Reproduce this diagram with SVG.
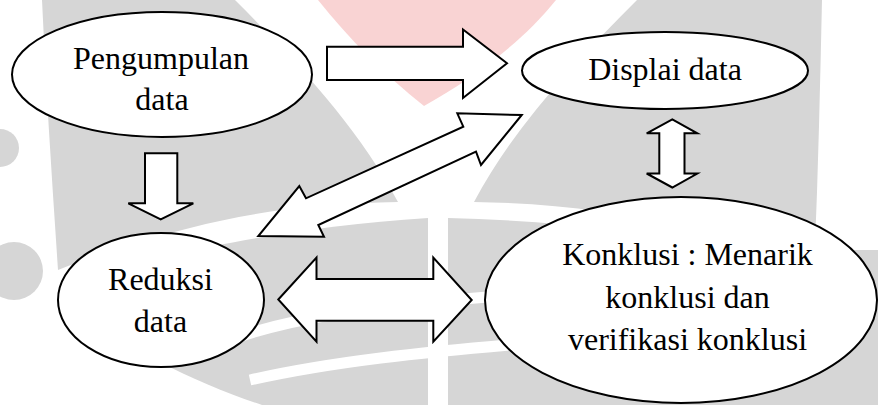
<svg xmlns="http://www.w3.org/2000/svg" width="878" height="405" viewBox="0 0 878 405">
<style>
.wm{fill:#d6d6d6;stroke:none}
.wmp{fill:#f9d3d3;stroke:none}
.wms{fill:none;stroke:#ffffff;stroke-width:11}
.node{fill:#ffffff;stroke:#000000;stroke-width:2}
.arrow{fill:#ffffff;stroke:#000000;stroke-width:2;stroke-linejoin:miter}
.lbl{font-family:"Liberation Serif","Times New Roman",serif;font-size:32px;fill:#000000;text-anchor:middle}
</style>
<rect width="878" height="405" fill="#ffffff"/>
<g id="watermark">
<path class="wmp" d="M318,0 L556,0 C520,45 470,80 424,106 C385,75 350,40 318,0 Z"/>
<path class="wm" d="M42,0 L235,0 C300,65 360,130 398,202 C320,203 250,212 190,228 C140,240 95,255 58,270 C52,180 46,90 42,0 Z"/>
<path class="wm" d="M60,290 C120,265 250,230 428,218 L428,405 L262,405 C200,385 120,345 60,305 Z"/>
<path class="wm" d="M637,0 L822,0 C820,90 818,180 814,270 C777,255 732,240 682,228 C622,212 552,203 474,202 C512,130 572,65 637,0 Z"/>
<path class="wm" d="M448,218 C540,220 640,230 740,250 L878,250 L878,405 L448,405 Z"/>
<circle class="wm" cx="14" cy="271" r="29"/>
<circle class="wm" cx="0" cy="148" r="19"/>
<path class="wms" d="M230,340 C290,318 370,306 500,296"/>
<path class="wms" d="M250,380 C330,362 420,352 545,342"/>
</g>
<g id="connectors">
<polygon class="arrow" points="327,46.7 463,46.7 463,29.5 507,63.3 463,98 463,80 327,80"/>
<polygon class="arrow" points="145,153.3 177.3,153.3 177.3,203.3 193.3,203.3 160.7,219.3 128.3,203.3 145,203.3"/>
<polygon class="arrow" points="521.7,115 481,165 476,151.7 318.3,225 324,236.7 258.3,236 299.3,186 306,198.3 463.3,126.7 457.3,113.3"/>
<polygon class="arrow" points="278.3,299.5 316.5,257.5 316.5,279 433.3,279 433.3,257.5 471.7,300 433.3,341.7 433.3,320.7 316.5,320.7 316.5,341.7"/>
<polygon class="arrow" points="672.3,119.3 697.3,133.3 684.5,133.3 684.5,173.5 697.3,173.5 672.3,187.5 646.7,173.5 659.3,173.5 659.3,133.3 646.7,133.3"/>
</g>
<g id="pengumpulan">
<ellipse class="node" cx="162" cy="74.5" rx="150" ry="62.5"/>
<text class="lbl" x="161" y="68.5">Pengumpulan</text>
<text class="lbl" x="162" y="110">data</text>
</g>
<g id="displai">
<ellipse class="node" cx="665" cy="70.5" rx="143" ry="38.5"/>
<text class="lbl" x="665" y="80">Displai data</text>
</g>
<g id="reduksi">
<ellipse class="node" cx="161" cy="300" rx="103" ry="67"/>
<text class="lbl" x="160.5" y="290">Reduksi</text>
<text class="lbl" x="160.5" y="331.7">data</text>
</g>
<g id="konklusi">
<ellipse class="node" cx="681" cy="300" rx="196" ry="103"/>
<text class="lbl" x="687.5" y="265">Konklusi : Menarik</text>
<text class="lbl" x="687.5" y="308">konklusi dan</text>
<text class="lbl" x="687.5" y="350">verifikasi konklusi</text>
</g>
</svg>
